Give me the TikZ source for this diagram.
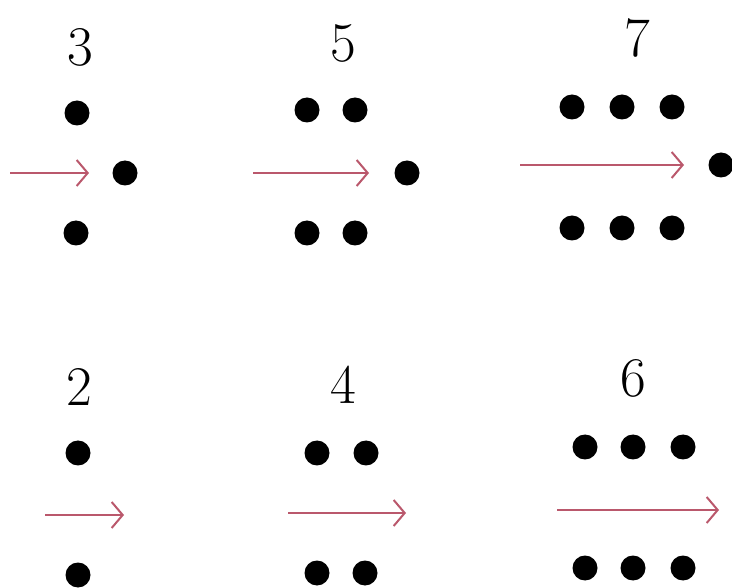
\documentclass[tikz,border=0pt]{standalone}
\usetikzlibrary{arrows.meta}
\definecolor{arrowpink}{RGB}{186,88,108}
\begin{document}
\begin{tikzpicture}[x=1pt,y=-1pt,
  dot/.style={circle,fill=black,inner sep=0pt,minimum size=25pt},
  numlabel/.style={inner sep=0pt,font=\fontsize{56}{64}\selectfont},
  redarrow/.style={draw=arrowpink,line width=2.6pt,-{Straight Barb[length=11pt,width=26pt,line width=2pt]}}]
\useasboundingbox (0,0) rectangle (732,588);
% panel 3
\node[numlabel] (n3) at (80,47) {3};
\node[dot] (d3a) at (77,113) {};
\node[dot] (d3b) at (125,173) {};
\node[dot] (d3c) at (76,233) {};
\coordinate (a3s) at (10,173);
\coordinate (a3e) at (89,173);
\draw[redarrow] (a3s) -- (a3e);
% panel 5
\node[numlabel] (n5) at (343,43) {5};
\node[dot] (d5a) at (307,110) {};
\node[dot] (d5b) at (355,110) {};
\node[dot] (d5c) at (407,173) {};
\node[dot] (d5d) at (307,233) {};
\node[dot] (d5e) at (355,233) {};
\coordinate (a5s) at (253,173);
\coordinate (a5e) at (369,173);
\draw[redarrow] (a5s) -- (a5e);
% panel 7
\node[numlabel] (n7) at (637,38) {7};
\node[dot] (d7a) at (572,107) {};
\node[dot] (d7b) at (622,107) {};
\node[dot] (d7c) at (672,107) {};
\node[dot] (d7d) at (721,165) {};
\node[dot] (d7e) at (572,228) {};
\node[dot] (d7f) at (622,228) {};
\node[dot] (d7g) at (672,228) {};
\coordinate (a7s) at (520,165);
\coordinate (a7e) at (684,165);
\draw[redarrow] (a7s) -- (a7e);
% panel 2
\node[numlabel] (n2) at (79,387) {2};
\node[dot] (d2a) at (78,453) {};
\node[dot] (d2b) at (78,575) {};
\coordinate (a2s) at (45,515);
\coordinate (a2e) at (124,515);
\draw[redarrow] (a2s) -- (a2e);
% panel 4
\node[numlabel] (n4) at (343,385) {4};
\node[dot] (d4a) at (317,453) {};
\node[dot] (d4b) at (366,453) {};
\node[dot] (d4c) at (317,573) {};
\node[dot] (d4d) at (365,573) {};
\coordinate (a4s) at (288,513);
\coordinate (a4e) at (406,513);
\draw[redarrow] (a4s) -- (a4e);
% panel 6
\node[numlabel] (n6) at (633,378) {6};
\node[dot] (d6a) at (585,447) {};
\node[dot] (d6b) at (633,447) {};
\node[dot] (d6c) at (683,447) {};
\node[dot] (d6d) at (585,568) {};
\node[dot] (d6e) at (633,568) {};
\node[dot] (d6f) at (683,568) {};
\coordinate (a6s) at (557,510);
\coordinate (a6e) at (719,510);
\draw[redarrow] (a6s) -- (a6e);
\end{tikzpicture}
\end{document}
